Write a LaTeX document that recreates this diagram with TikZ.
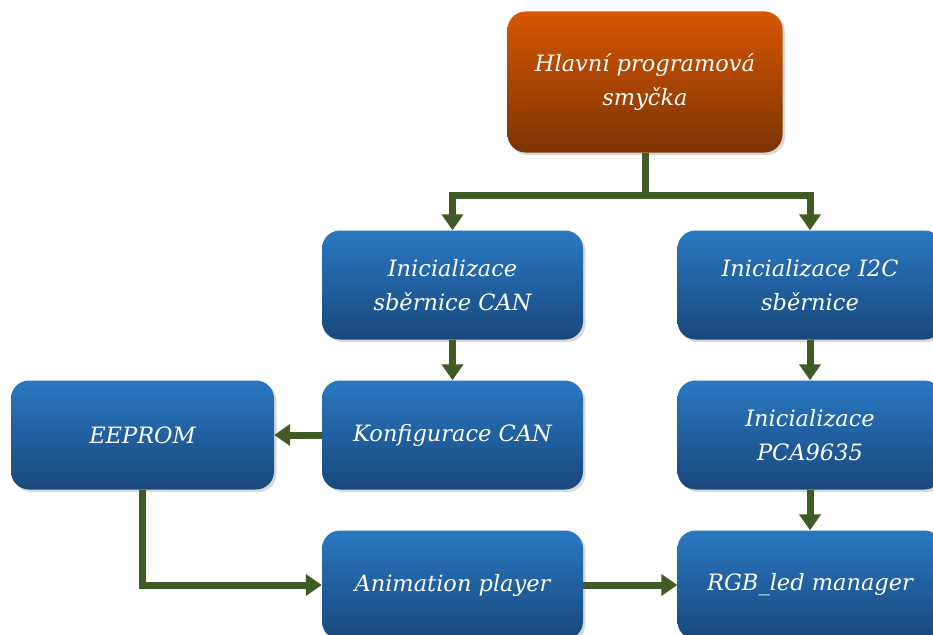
\documentclass[tikz,border=0pt]{standalone}
\usepackage{fontspec}
\setmainfont{DejaVu Serif}
\usetikzlibrary{arrows.meta,shadows}
\definecolor{blueT}{RGB}{42,120,194}
\definecolor{blueB}{RGB}{24,72,124}
\definecolor{orT}{RGB}{214,86,2}
\definecolor{orB}{RGB}{124,52,2}
\definecolor{conn}{RGB}{62,92,36}
\begin{document}
\begin{tikzpicture}[x=1pt,y=-1pt,
  box/.style={rounded corners=18pt, minimum width=261pt, minimum height=109pt,
    top color=blueT, bottom color=blueB, text=white, align=center,
    font=\itshape\fontsize{22.5}{34}\selectfont,
    drop shadow={shadow xshift=2.5pt, shadow yshift=-2.5pt, opacity=0.3}},
  mainbox/.style={box, top color=orT, bottom color=orB, minimum width=275pt, minimum height=141pt},
  link/.style={draw=conn, line width=7pt},
  arr/.style={link, -{Triangle[width=21pt,length=16pt]}}]
\useasboundingbox (0,0) rectangle (933,634);
\clip (0,0) rectangle (933,634);
\node[mainbox] (main) at (645,82) {Hlavní programová\\smyčka};
\node[box] (can) at (452.5,285) {Inicializace\\sběrnice CAN};
\node[box, minimum width=265pt] (i2c) at (810,285) {Inicializace I2C\\sběrnice};
\node[box, minimum width=263pt] (eeprom) at (142.5,435) {EEPROM};
\node[box] (konf) at (452.5,435) {Konfigurace CAN};
\node[box, minimum width=265pt] (pca) at (810,435) {Inicializace\\PCA9635};
\node[box] (anim) at (452.5,585) {Animation player};
\node[box, minimum width=265pt] (rgb) at (810,585) {RGB\_led manager};
\coordinate (j) at (645,195);
\draw[link] (main.south) -- (j);
\draw[arr] (j) -| (can.north);
\draw[arr] (j) -| (i2c.north);
\draw[arr] (can.south) -- (konf.north);
\draw[arr] (i2c.south) -- (pca.north);
\draw[arr] (pca.south) -- (rgb.north);
\draw[arr] (konf.west) -- (eeprom.east);
\draw[arr] (eeprom.south) |- (anim.west);
\draw[arr] (anim.east) -- (rgb.west);
\end{tikzpicture}
\end{document}
